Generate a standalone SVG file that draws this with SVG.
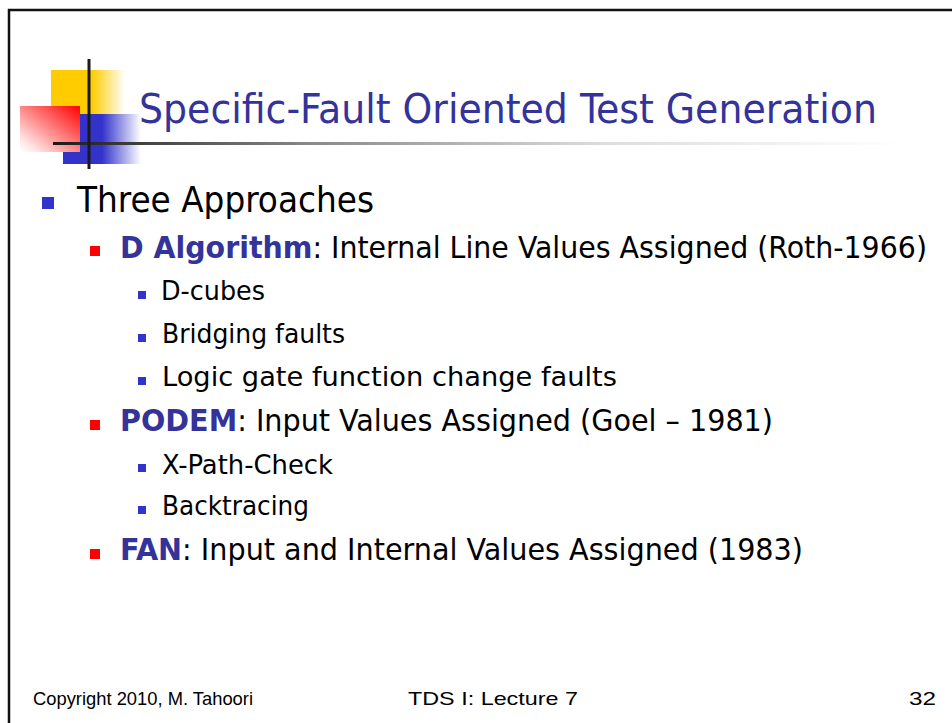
<svg xmlns="http://www.w3.org/2000/svg" width="952" height="723" viewBox="0 0 952 723">
  <defs>
    <linearGradient id="yellowFade" x1="0" y1="0" x2="1" y2="0">
      <stop offset="0" stop-color="#FFCC00"/>
      <stop offset="0.55" stop-color="#FFCC00"/>
      <stop offset="1" stop-color="#FFFFFF"/>
    </linearGradient>
    <linearGradient id="blueFade" x1="0" y1="0" x2="1" y2="0">
      <stop offset="0" stop-color="#3333CC"/>
      <stop offset="0.5" stop-color="#3333CC"/>
      <stop offset="1" stop-color="#FFFFFF"/>
    </linearGradient>
    <linearGradient id="redFade" x1="1" y1="0" x2="0" y2="1">
      <stop offset="0" stop-color="#FF0000"/>
      <stop offset="0.85" stop-color="#FFE6E6"/>
      <stop offset="1" stop-color="#FFFFFF"/>
    </linearGradient>
    <linearGradient id="ruleFade" x1="0" y1="0" x2="1" y2="0">
      <stop offset="0" stop-color="#1A1A1A"/>
      <stop offset="0.3" stop-color="#888888"/>
      <stop offset="0.65" stop-color="#DDDDDD"/>
      <stop offset="1" stop-color="#FFFFFF"/>
    </linearGradient>
  </defs>
  <style>
    .body { font-family: "DejaVu Sans Condensed", "DejaVu Sans", "Liberation Sans", sans-serif; fill: #000000; }
    .title { font-family: "DejaVu Sans Condensed", "DejaVu Sans", "Liberation Sans", sans-serif; fill: #333399; font-size: 40px; }
    .kw { font-weight: bold; fill: #333399; }
    .l1 { font-size: 36px; }
    .l2 { font-size: 31px; }
    .l3 { font-size: 27px; }
    .b1 { fill: #3333CC; }
    .b2 { fill: #FF0000; }
    .b3 { fill: #3333CC; }
    .foot { font-family: "Liberation Sans Narrow", "Liberation Sans", sans-serif; font-size: 19px; fill: #000000; }
  </style>

  <rect width="952" height="723" fill="#FFFFFF"/>
  <!-- slide frame -->
  <rect x="9" y="10" width="980" height="760" fill="none" stroke="#111111" stroke-width="2.5"/>

  <!-- title ornament -->
  <g id="ornament">
    <rect x="51" y="70" width="74" height="44" fill="url(#yellowFade)"/>
    <rect x="63" y="114" width="78" height="50" fill="url(#blueFade)"/>
    <rect x="20" y="106" width="60" height="46" fill="url(#redFade)"/>
    <rect x="53" y="142" width="850" height="3" fill="url(#ruleFade)"/>
    <rect x="87.5" y="59" width="3" height="110" fill="#1A1A1A"/>
  </g>

  <g id="title">
    <text class="title" x="139" y="123" textLength="738" lengthAdjust="spacingAndGlyphs">Specific-Fault Oriented Test Generation</text>
  </g>

  <g id="item-approaches">
    <rect class="b1" x="42" y="197" width="12" height="12"/>
    <text class="body l1" x="77" y="212" textLength="297" lengthAdjust="spacingAndGlyphs">Three Approaches</text>
  </g>

  <g id="item-d-algorithm">
    <rect class="b2" x="90" y="246" width="10" height="10"/>
    <text class="body l2" x="120" y="258" textLength="807" lengthAdjust="spacingAndGlyphs"><tspan class="kw">D Algorithm</tspan>: Internal Line Values Assigned (Roth-1966)</text>
  </g>

  <g id="item-d-cubes">
    <rect class="b3" x="138" y="291" width="8" height="8"/>
    <text class="body l3" x="161" y="300" textLength="104" lengthAdjust="spacingAndGlyphs">D-cubes</text>
  </g>

  <g id="item-bridging">
    <rect class="b3" x="138" y="334" width="8" height="8"/>
    <text class="body l3" x="162" y="343" textLength="183" lengthAdjust="spacingAndGlyphs">Bridging faults</text>
  </g>

  <g id="item-logic-gate">
    <rect class="b3" x="138" y="377" width="8" height="8"/>
    <text class="body l3" x="162" y="386" textLength="455" lengthAdjust="spacingAndGlyphs">Logic gate function change faults</text>
  </g>

  <g id="item-podem">
    <rect class="b2" x="90" y="420" width="10" height="10"/>
    <text class="body l2" x="120" y="431" textLength="653" lengthAdjust="spacingAndGlyphs"><tspan class="kw">PODEM</tspan>: Input Values Assigned (Goel – 1981)</text>
  </g>

  <g id="item-xpath">
    <rect class="b3" x="138" y="464" width="8" height="8"/>
    <text class="body l3" x="162" y="474" textLength="171" lengthAdjust="spacingAndGlyphs">X-Path-Check</text>
  </g>

  <g id="item-backtracing">
    <rect class="b3" x="138" y="506" width="8" height="8"/>
    <text class="body l3" x="162" y="515" textLength="147" lengthAdjust="spacingAndGlyphs">Backtracing</text>
  </g>

  <g id="item-fan">
    <rect class="b2" x="90" y="549" width="10" height="10"/>
    <text class="body l2" x="120" y="560" textLength="683" lengthAdjust="spacingAndGlyphs"><tspan class="kw">FAN</tspan>: Input and Internal Values Assigned (1983)</text>
  </g>

  <g id="footer">
    <text class="foot" x="33" y="705" textLength="220" lengthAdjust="spacingAndGlyphs">Copyright 2010, M. Tahoori</text>
    <text class="foot" x="408" y="705" textLength="170" lengthAdjust="spacingAndGlyphs">TDS I: Lecture 7</text>
    <text class="foot" x="909" y="705" textLength="27" lengthAdjust="spacingAndGlyphs">32</text>
  </g>

  <!-- no connectors on this slide -->
  <g id="connectors"/>
</svg>
